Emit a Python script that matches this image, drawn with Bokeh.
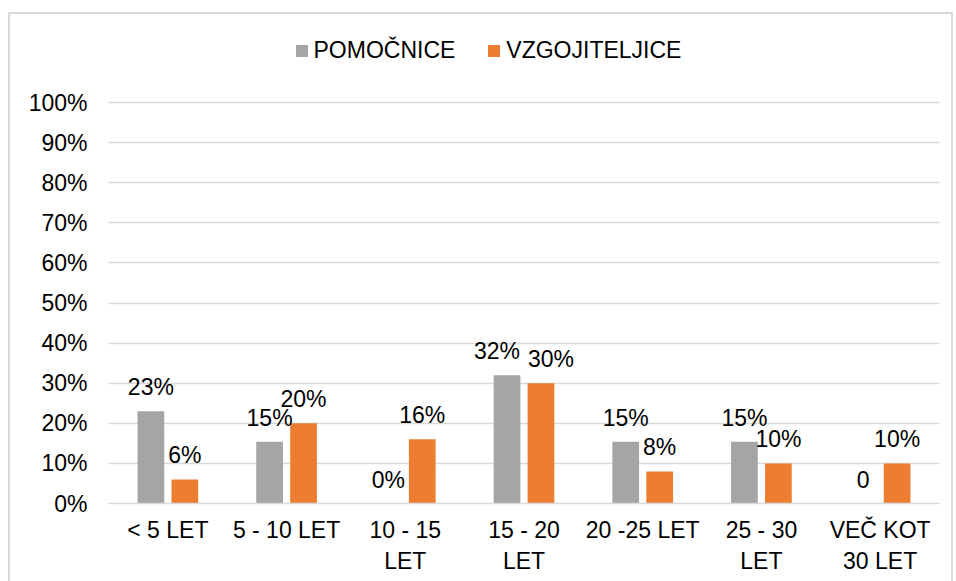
from bokeh.plotting import figure
from bokeh.models import (ColumnDataSource, FactorRange, Range1d, FixedTicker,
                          NumeralTickFormatter, Legend, LegendItem, InlineStyleSheet)
from bokeh.transform import dodge
from bokeh.core.properties import value
from bokeh.embed import file_html
from bokeh.resources import INLINE

# ---------------- data ----------------
categories = ["< 5 LET", "5 - 10 LET", "10 - 15\nLET", "15 - 20\nLET",
              "20 -25 LET", "25 - 30\nLET", "VEČ KOT\n30 LET"]
pomocnice = [23, 15.4, 0, 32, 15.4, 15.4, 0]
vzgojiteljice = [6, 20, 16, 30, 8, 10, 10]
pomocnice_labels = ["23%", "15%", "0%", "32%", "15%", "15%", "0"]
vzgojiteljice_labels = ["6%", "20%", "16%", "30%", "8%", "10%", "10%"]
series_names = ["POMOČNICE", "VZGOJITELJICE"]
y_ticks = [0, 10, 20, 30, 40, 50, 60, 70, 80, 90, 100]

# ---------------- style ----------------
FONT = value("Liberation Sans")
FS = "23px"
GRAY = "#A5A5A5"
ORANGE = "#ED7D31"
GRID = "#D9D9D9"
TXT = "#000000"

# small manual nudges of overlapping data labels (screen px)
nudge_p = [0, 0, 0, -10, 0, 0, 0]
nudge_v = [0, 0, 0, 10, 0, 0, 0]

src_p = ColumnDataSource(dict(cat=categories, val=[v / 100 for v in pomocnice],
                              lab=pomocnice_labels, nudge=nudge_p))
src_v = ColumnDataSource(dict(cat=categories, val=[v / 100 for v in vzgojiteljice],
                              lab=vzgojiteljice_labels, nudge=nudge_v))

# chart-area border drawn behind a transparent canvas
border_css = InlineStyleSheet(css="""
:host {
  background-color: white;
  background-image: linear-gradient(#D9D9D9, #D9D9D9),
                    linear-gradient(#D9D9D9, #D9D9D9),
                    linear-gradient(#D9D9D9, #D9D9D9);
  background-size: 2px 100%, 2px 100%, 945px 2px;
  background-position: 8px 12px, 951px 12px, 8px 12px;
  background-repeat: no-repeat;
}
""")

# layout: frame extends above the 100 % line so that the legend sits inside it
W, H = 956, 581
TOP, BOTTOM = 20, 78
PLOT_TOP_PX = 102           # page y of the 100 % gridline
frame_h = H - TOP - BOTTOM
y_end = 1.0 * frame_h / (H - BOTTOM - PLOT_TOP_PX)

p = figure(width=W, height=H, output_backend="svg", toolbar_location=None,
           x_range=FactorRange(*categories, range_padding=0),
           y_range=Range1d(0, y_end),
           min_border_left=108, min_border_right=17,
           min_border_top=TOP, min_border_bottom=BOTTOM,
           stylesheets=[border_css])
p.outline_line_color = None
p.background_fill_color = None
p.border_fill_color = None

OFF = 0.143
BW = 0.225
r1 = p.vbar(x=dodge("cat", -OFF, range=p.x_range), top="val", width=BW,
            source=src_p, fill_color=GRAY, line_color=None)
r2 = p.vbar(x=dodge("cat", OFF, range=p.x_range), top="val", width=BW,
            source=src_v, fill_color=ORANGE, line_color=None)

for src, off in ((src_p, -OFF), (src_v, OFF)):
    p.text(x=dodge("cat", off, range=p.x_range), y="val", text="lab", source=src,
           text_align="center", text_baseline="middle", y_offset=-24,
           x_offset="nudge", text_font=FONT, text_font_size=FS, text_color=TXT)

# axes
p.yaxis.ticker = FixedTicker(ticks=[t / 100 for t in y_ticks])
p.yaxis.formatter = NumeralTickFormatter(format="0%")
p.yaxis.axis_line_color = None
p.yaxis.major_tick_line_color = None
p.yaxis.minor_tick_line_color = None
p.yaxis.major_tick_out = 0
p.yaxis.major_label_standoff = 21
p.yaxis.major_label_text_font = "Liberation Sans"
p.yaxis.major_label_text_font_size = FS
p.yaxis.major_label_text_color = TXT

p.xaxis.axis_line_color = GRID
p.xaxis.axis_line_width = 1.5
p.xaxis.major_tick_line_color = None
p.xaxis.major_tick_out = 0
p.xaxis.major_label_standoff = 13
p.xaxis.major_label_text_font = "Liberation Sans"
p.xaxis.major_label_text_font_size = FS
p.xaxis.major_label_text_color = TXT
p.xaxis.major_label_text_line_height = 1.2

p.xgrid.grid_line_color = None
p.ygrid.grid_line_color = GRID
p.ygrid.grid_line_width = 1.5

legend = Legend(items=[LegendItem(label=series_names[0], renderers=[r1]),
                       LegendItem(label=series_names[1], renderers=[r2])],
                orientation="horizontal", location=(185.5, 439),
                padding=0, margin=0, spacing=31, label_standoff=5,
                glyph_width=15, glyph_height=15,
                border_line_color=None, background_fill_alpha=0,
                label_text_font="Liberation Sans", label_text_font_size=FS,
                label_text_color=TXT)
p.add_layout(legend)

open("out.html", "w").write(file_html(p, INLINE))
